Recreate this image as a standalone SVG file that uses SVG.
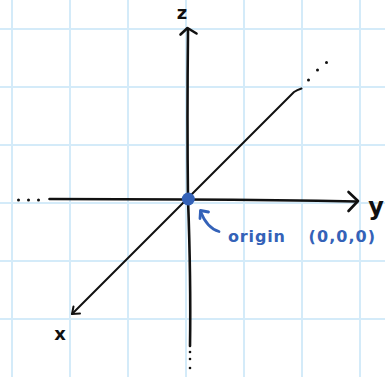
<svg xmlns="http://www.w3.org/2000/svg" width="385" height="377" viewBox="0 0 385 377">
<style>
.grid{stroke:#d4ebf9;stroke-width:2}
.axis{fill:none;stroke:#111;stroke-width:2.6;stroke-linecap:round;stroke-linejoin:round}
.diag{fill:none;stroke:#111;stroke-width:2;stroke-linecap:round;stroke-linejoin:round}
.dot{fill:#111}
.lbl{font-family:"DejaVu Sans",sans-serif;font-weight:bold;fill:#111}
.blue{font-family:"DejaVu Sans",sans-serif;font-weight:bold;fill:#3462b8}
</style>
<rect width="385" height="377" fill="#fff"/>
<g id="grid">
<line class="grid" x1="12" y1="0" x2="12" y2="377"/>
<line class="grid" x1="70" y1="0" x2="70" y2="377"/>
<line class="grid" x1="128" y1="0" x2="128" y2="377"/>
<line class="grid" x1="186" y1="0" x2="186" y2="377"/>
<line class="grid" x1="244" y1="0" x2="244" y2="377"/>
<line class="grid" x1="302" y1="0" x2="302" y2="377"/>
<line class="grid" x1="360" y1="0" x2="360" y2="377"/>
<line class="grid" x1="0" y1="29" x2="385" y2="29"/>
<line class="grid" x1="0" y1="87" x2="385" y2="87"/>
<line class="grid" x1="0" y1="145" x2="385" y2="145"/>
<line class="grid" x1="0" y1="203" x2="385" y2="203"/>
<line class="grid" x1="0" y1="261" x2="385" y2="261"/>
<line class="grid" x1="0" y1="319" x2="385" y2="319"/>
</g>
<g id="connectors">
<path id="z-axis" class="axis" d="M188,30 Q187,120 188,199 Q191,280 190,346"/>
<path class="axis" d="M180.5,34.5 L187.5,28 L196.5,33.5"/>
<path id="y-axis" class="axis" d="M49.5,199 L188,199.5 Q280,200 357,201.5"/>
<path class="axis" d="M348.5,192 L358,201 L348.5,211"/>
<path id="x-axis" class="diag" d="M301.5,88.5 Q297,90 294,92 L72,314"/>
<path class="diag" d="M73.5,306.5 L72,314 L80,313.5"/>
<path id="origin-arrow" fill="none" stroke="#3462b8" stroke-width="2.8" stroke-linecap="round" stroke-linejoin="round" d="M219,231.5 Q207,228 200.5,211.5"/>
<path fill="none" stroke="#3462b8" stroke-width="2.8" stroke-linecap="round" stroke-linejoin="round" d="M208.5,212 L200.5,210.5 L200,218.5"/>
</g>
<g id="ellipsis-left">
<circle class="dot" cx="18.5" cy="200" r="1.5"/>
<circle class="dot" cx="28.5" cy="200" r="1.5"/>
<circle class="dot" cx="38.5" cy="200" r="1.5"/>
</g>
<g id="ellipsis-top">
<circle class="dot" cx="308.5" cy="80" r="1.5"/>
<circle class="dot" cx="317.5" cy="70" r="1.5"/>
<circle class="dot" cx="326.5" cy="62.5" r="1.5"/>
</g>
<g id="ellipsis-bottom">
<circle class="dot" cx="190" cy="352" r="1.3"/>
<circle class="dot" cx="190" cy="359" r="1.3"/>
<circle class="dot" cx="190" cy="368" r="1.3"/>
</g>
<g id="origin">
<circle cx="188.3" cy="199" r="6.5" fill="#3462b8"/>
<text class="blue" y="242" font-size="16"><tspan x="228" textLength="57" lengthAdjust="spacing">origin</tspan><tspan x="302" textLength="73" lengthAdjust="spacing"> (0,0,0)</tspan></text>
</g>
<g id="labels">
<text class="lbl" x="182" y="19" font-size="18" text-anchor="middle">z</text>
<text class="lbl" x="376" y="215" font-size="24" text-anchor="middle">y</text>
<text class="lbl" x="60" y="340" font-size="18" text-anchor="middle">x</text>
</g>
</svg>
